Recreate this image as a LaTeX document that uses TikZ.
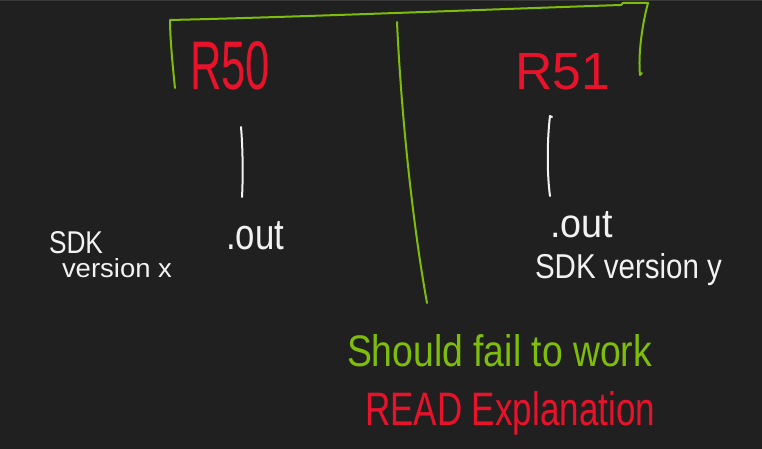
\documentclass[tikz,border=0pt]{standalone}
\usepackage{fontspec}
\setmainfont{Liberation Sans}
\definecolor{bg}{HTML}{202020}
\definecolor{topbar}{HTML}{3A3A3A}
\definecolor{inkred}{HTML}{E8132B}
\definecolor{inkgreen}{HTML}{7EBD0A}
\definecolor{inkwhite}{HTML}{F2F2F2}
\tikzset{
  txt/.style={inner sep=0pt, outer sep=0pt, anchor=base west},
  redtxt/.style={txt, text=inkred},
  greentxt/.style={txt, text=inkgreen},
  whitetxt/.style={txt, text=inkwhite},
  greenline/.style={draw=inkgreen, line width=2pt, line cap=round, line join=round},
  whiteline/.style={draw=inkwhite, line width=2pt, line cap=round, line join=round},
}
\begin{document}
\begin{tikzpicture}[x=1pt, y=-1pt]
\fill[bg] (0,0) rectangle (762,449);
\fill[topbar] (0,0) rectangle (762,1.5);
\useasboundingbox (0,0) rectangle (762,449);

% red labels
\node[redtxt] (r50) at (190,90) {\resizebox{80pt}{48pt}{R50}};
\node[redtxt] (r51) at (515,90) {\resizebox{95pt}{36pt}{R51}};

% green bracket
\coordinate (bl) at (175,88);
\coordinate (tl) at (170,20);
\coordinate (tr) at (621,5);
\coordinate (trc) at (648,3);
\coordinate (br) at (640,75);
\draw[greenline] (bl) .. controls (172,60) and (170,35) .. (tl)
  .. controls (300,17) and (500,9) .. (tr) -- (623,3) -- (trc)
  .. controls (642,25) and (638,55) .. (br) -- (642,73);

% green middle divider
\coordinate (mt) at (397,22);
\coordinate (mb) at (427,303);
\draw[greenline] (mt) .. controls (401,110) and (412,220) .. (mb);

% white vertical strokes
\coordinate (lw1) at (241,127);
\coordinate (lw2) at (242,197);
\draw[whiteline] (lw1) .. controls (243,150) and (243,180) .. (lw2);
\coordinate (rw1) at (550,116);
\coordinate (rw2) at (550,196);
\draw[whiteline] (552,117) -- (rw1) .. controls (547,140) and (547,175) .. (rw2);

% white texts
\node[whitetxt] (outl) at (226,249) {\resizebox{58pt}{28pt}{.out}};
\node[whitetxt] (sdkl) at (49,253) {\resizebox{54pt}{22pt}{SDK}};
\node[whitetxt] (verl) at (62,277) {\resizebox{110pt}{19pt}{version x}};
\node[whitetxt] (outr) at (550,237) {\resizebox{63pt}{26pt}{.out}};
\node[whitetxt] (sdkr) at (535,278) {\resizebox{187pt}{25pt}{SDK version y}};

% bottom texts
\node[greentxt] (fail) at (347,366) {\resizebox{305pt}{32pt}{Should fail to work}};
\node[redtxt] (read) at (365,425) {\resizebox{290pt}{34pt}{READ Explanation}};
\end{tikzpicture}
\end{document}
